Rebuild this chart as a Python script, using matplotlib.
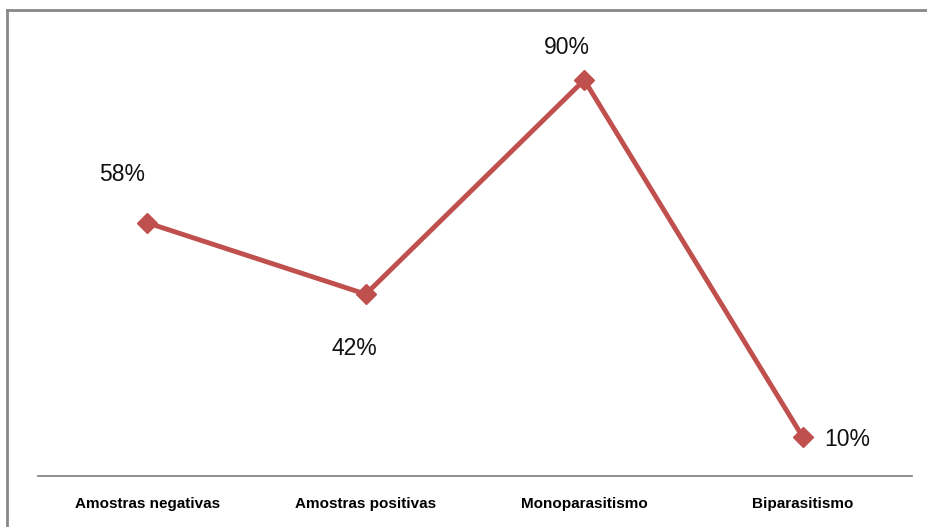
import matplotlib
matplotlib.use("Agg")
import matplotlib.pyplot as plt
from matplotlib.lines import Line2D

categories = ["Amostras negativas", "Amostras positivas", "Monoparasitismo", "Biparasitismo"]
values = [58, 42, 90, 10]
labels = ["58%", "42%", "90%", "10%"]
# label offsets from each point, in pixels
offsets = [(-25, 48), (-11, -54), (-17, 33), (22, -3)]
aligns = ["center", "center", "center", "left"]

RED = "#C0504D"

fig = plt.figure(figsize=(9.28, 5.27), dpi=100)
W, H = 928, 527
ax = fig.add_axes([38 / W, (H - 476) / H, 874 / W, 440.6 / H])

x = list(range(len(categories)))
ax.plot(x, values, color=RED, lw=3.5, marker="D", markersize=10.5,
        markerfacecolor=RED, markeredgecolor=RED, solid_joinstyle="round")

for xi, v, lab, (dx, dy), ha in zip(x, values, labels, offsets, aligns):
    ax.annotate(lab, (xi, v), xytext=(dx, dy), textcoords="offset pixels",
                ha=ha, va="center", fontsize=16.5, family="Liberation Sans",
                color="#111111")

ax.set_xlim(-0.5, 3.5)
ax.set_ylim(1.25, 100)
ax.set_yticks([])
ax.set_xticks(x)
ax.set_xticklabels(categories, fontsize=11, fontweight="bold",
                   family="Liberation Sans")
ax.tick_params(axis="x", length=0, pad=15)
for s in ["top", "right", "left"]:
    ax.spines[s].set_visible(False)
ax.spines["bottom"].set_color("#868686")
ax.spines["bottom"].set_linewidth(1.3)

# outer chart border (only top and left visible in frame)
fig.add_artist(Line2D([7 / W, 7 / W], [0, (H - 10) / H], color="#888888", lw=2))
fig.add_artist(Line2D([7 / W, 1], [(H - 10) / H, (H - 10) / H], color="#888888", lw=2))

fig.savefig("out.png", dpi=100)
